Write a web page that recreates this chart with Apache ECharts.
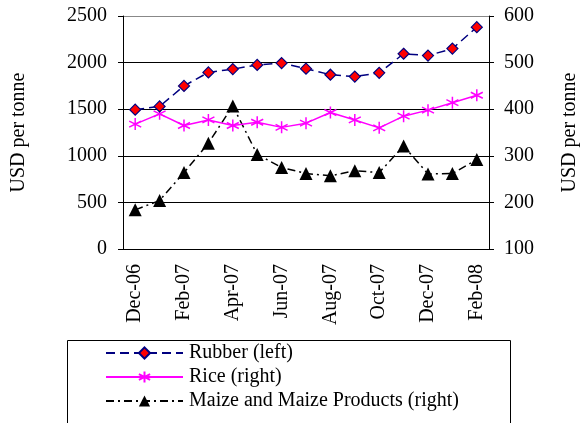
<!DOCTYPE html>
<html>
<head>
<meta charset="utf-8">
<script src="https://cdn.jsdelivr.net/npm/echarts@6/dist/echarts.min.js"></script>
<style>
  html, body { margin: 0; padding: 0; background: #fff; }
  #chart { width: 581px; height: 423px; }
</style>
</head>
<body>
<div id="chart"></div>
<script>
// 月份类别与三条价格序列
const months = ['Dec-06', 'Jan-07', 'Feb-07', 'Mar-07', 'Apr-07', 'May-07', 'Jun-07', 'Jul-07',
  'Aug-07', 'Sep-07', 'Oct-07', 'Nov-07', 'Dec-07', 'Jan-08', 'Feb-08'];
const rubber = [1495, 1530, 1750, 1895, 1930, 1975, 1995, 1935, 1870, 1850, 1890, 2095, 2075, 2150, 2380];
const rice = [368, 390, 365, 377, 365, 372, 361, 370, 393, 377, 360, 385, 398, 414, 430];
const maize = [184, 204, 264, 327, 407, 303, 275, 262, 257, 268, 264, 321, 261, 262, 292];

const serif = '"Liberation Serif", "DejaVu Serif", serif';
const fs = 20;
// 星号标记
const asterisk = 'path://M0,-10L0,10M-8.7,-5L8.7,5M-8.7,5L8.7,-5';

const chart = echarts.init(document.getElementById('chart'));

const option = {
  backgroundColor: '#fff',
  animation: false,
  textStyle: { fontFamily: serif, color: '#000' },
  grid: { left: 123, right: 92, top: 16, bottom: 174, outerBoundsMode: 'none' },
  graphic: [{
    type: 'rect',
    shape: { x: 67.5, y: 340.5, width: 443, height: 100 },
    style: { fill: '#fff', stroke: '#000', lineWidth: 1 },
    z: 0
  }],
  legend: {
    orient: 'vertical',
    left: 105,
    top: 343,
    itemWidth: 77,
    itemHeight: 14,
    itemGap: 4,
    padding: 0,
    textStyle: { fontFamily: serif, fontSize: fs, color: '#000', padding: [0, 0, 0, 1] },
    data: ['Rubber (left)', 'Rice (right)', 'Maize and Maize Products (right)']
  },
  xAxis: {
    type: 'category',
    data: months,
    boundaryGap: true,
    axisLine: { lineStyle: { color: '#000', width: 1 } },
    axisTick: { interval: 1, length: 5, lineStyle: { color: '#000' } },
    axisLabel: { interval: 1, rotate: 90, fontSize: fs, color: '#000', fontFamily: serif, margin: 15 }
  },
  yAxis: [
    {
      type: 'value',
      min: 0,
      max: 2500,
      interval: 500,
      name: 'USD per tonne',
      nameLocation: 'middle',
      nameGap: 94,
      nameTextStyle: { fontSize: fs, fontFamily: serif, color: '#000' },
      axisLine: { show: true, lineStyle: { color: '#000' } },
      axisTick: { show: true, length: 5, lineStyle: { color: '#000' } },
      axisLabel: { fontSize: fs, color: '#000', fontFamily: serif, margin: 16, formatter: v => String(v) },
      splitLine: { show: true, lineStyle: { color: ['#000', '#000', '#000', '#000', '#000', '#888'], width: 1 } }
    },
    {
      type: 'value',
      min: 100,
      max: 600,
      interval: 100,
      name: 'USD per tonne',
      nameLocation: 'middle',
      nameGap: 71,
      nameTextStyle: { fontSize: fs, fontFamily: serif, color: '#000' },
      axisLine: { show: true, lineStyle: { color: '#000' } },
      axisTick: { show: true, length: 5, lineStyle: { color: '#000' } },
      axisLabel: { fontSize: fs, color: '#000', fontFamily: serif, margin: 15, formatter: v => String(v) },
      splitLine: { show: false }
    }
  ],
  series: [
    {
      name: 'Rubber (left)',
      type: 'line',
      yAxisIndex: 0,
      data: rubber,
      symbol: 'diamond',
      symbolSize: 11,
      lineStyle: { color: '#000080', width: 1.5, type: [9, 5] },
      itemStyle: { color: '#ff0000', borderColor: '#000080', borderWidth: 1.2 },
      z: 4
    },
    {
      name: 'Rice (right)',
      type: 'line',
      yAxisIndex: 1,
      data: rice,
      symbol: asterisk,
      symbolSize: 12,
      lineStyle: { color: '#ff00ff', width: 1.5 },
      itemStyle: { color: '#ff00ff', borderColor: '#ff00ff', borderWidth: 1.5 },
      z: 3
    },
    {
      name: 'Maize and Maize Products (right)',
      type: 'line',
      yAxisIndex: 1,
      data: maize,
      symbol: 'triangle',
      symbolSize: 13,
      lineStyle: { color: '#000', width: 1.5, type: [8, 4, 2, 4] },
      itemStyle: { color: '#000', borderColor: '#000', borderWidth: 0 },
      z: 2
    }
  ]
};

chart.setOption(option);
</script>
</body>
</html>
